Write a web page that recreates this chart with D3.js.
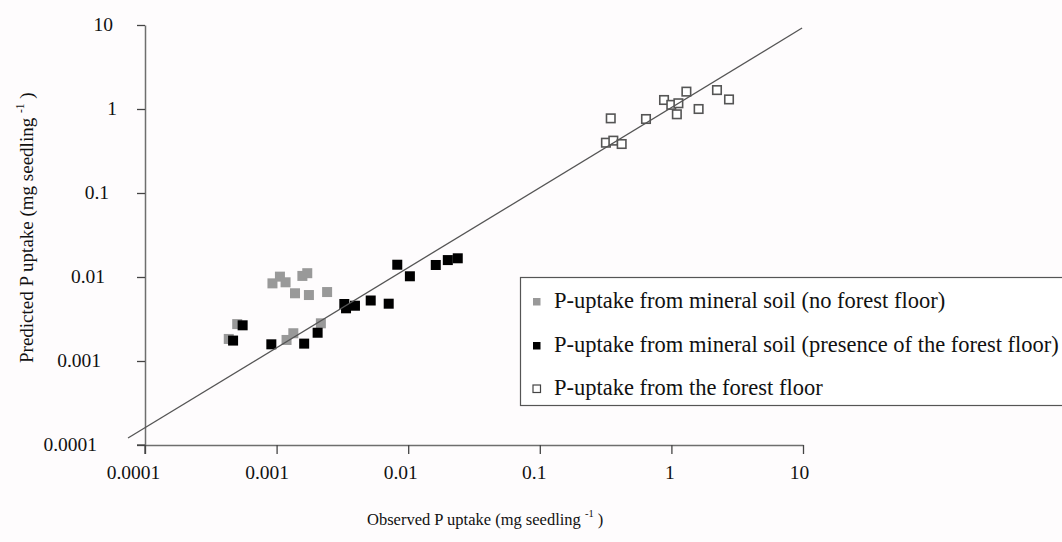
<!DOCTYPE html>
<html>
<head>
<meta charset="utf-8">
<script src="https://cdn.jsdelivr.net/npm/d3@7"></script>
<style>
  html, body { margin: 0; padding: 0; background: #fefcfd; }
  svg { display: block; }
  text { font-family: "Liberation Serif", "Times New Roman", serif; fill: #111; }
</style>
</head>
<body>
<svg id="chart" width="1062" height="542"></svg>
<script>
// Observed vs predicted P uptake (mg seedling^-1), log–log
const mineralNoFloorObs  = [0.00093, 0.00106, 0.00117, 0.00157, 0.00171, 0.00138, 0.00176, 0.00242, 0.000502, 0.000433, 0.00134, 0.00119, 0.00217];
const mineralNoFloorPred = [0.0084, 0.0101, 0.00865, 0.0103, 0.0111, 0.0064, 0.0061, 0.00662, 0.00275, 0.00183, 0.00214, 0.00178, 0.00281];

const mineralWithFloorObs  = [0.000552, 0.000467, 0.000912, 0.00162, 0.00205, 0.00327, 0.00337, 0.00394, 0.00519, 0.00711, 0.00826, 0.0103, 0.0162, 0.0200, 0.0238];
const mineralWithFloorPred = [0.00266, 0.00175, 0.00158, 0.00161, 0.00217, 0.00477, 0.00424, 0.00455, 0.00525, 0.00481, 0.0140, 0.0102, 0.0139, 0.0159, 0.0167];

const forestFloorObs  = [0.346, 0.641, 0.318, 0.362, 0.419, 0.879, 0.998, 1.13, 1.10, 1.30, 1.61, 2.22, 2.74];
const forestFloorPred = [0.774, 0.760, 0.397, 0.420, 0.383, 1.28, 1.12, 1.17, 0.865, 1.61, 1.00, 1.68, 1.30];

// fitted relationship, drawn between its two end points
const fitObs  = [0.0000743, 9.84];
const fitPred = [0.000121, 9.2];

const xTickValues = [0.0001, 0.001, 0.01, 0.1, 1, 10];
const xTickLabels = ["0.0001", "0.001", "0.01", "0.1", "1", "10"];
const yTickValues = [0.0001, 0.001, 0.01, 0.1, 1, 10];
const yTickLabels = ["0.0001", "0.001", "0.01", "0.1", "1", "10"];

const legendLabels = [
  "P-uptake from mineral soil (no forest floor)",
  "P-uptake from mineral soil (presence of the forest floor)",
  "P-uptake from the forest floor"
];

const svg = d3.select("#chart");

const x = d3.scaleLog().domain([1e-4, 10]).range([145, 803]);
const y = d3.scaleLog().domain([1e-4, 10]).range([445, 25]);

// ---- axes ----
const axisColor = "#6e6e6e";

const yAxis = svg.append("g")
  .attr("transform", `translate(${x.range()[0]},0)`)
  .call(d3.axisLeft(y).tickValues(yTickValues)
    .tickFormat((d, i) => yTickLabels[i]).tickSize(8).tickSizeOuter(0));
yAxis.select(".domain").attr("stroke", axisColor).attr("stroke-width", 1.5);
yAxis.selectAll(".tick line").attr("stroke", "#444").attr("stroke-width", 1.3);
yAxis.selectAll(".tick text")
  .attr("font-size", 19.5)
  .attr("font-family", "Liberation Serif")
  .attr("fill", "#111")
  .attr("dy", "0.30em")
  .attr("x", (d, i) => -24 - 4 * yTickLabels[i].length);

const xAxis = svg.append("g")
  .attr("transform", `translate(0,${y.range()[0]})`)
  .call(d3.axisBottom(x).tickValues(xTickValues)
    .tickFormat((d, i) => xTickLabels[i]).tickSize(9).tickSizeOuter(0));
xAxis.select(".domain").attr("stroke", axisColor).attr("stroke-width", 1.5);
xAxis.selectAll(".tick line").attr("stroke", "#444").attr("stroke-width", 1.3);
xAxis.selectAll(".tick text")
  .attr("font-size", 19.5)
  .attr("font-family", "Liberation Serif")
  .attr("fill", "#111")
  .attr("y", 27)
  .attr("dy", "0.35em")
  .attr("dx", (d, i) => -2 * xTickLabels[i].length);

// the origin ticks reach past the crossing axes
svg.append("line")
  .attr("x1", x(1e-4)).attr("x2", x(1e-4))
  .attr("y1", y(1e-4)).attr("y2", y(1e-4) + 9)
  .attr("stroke", "#444").attr("stroke-width", 1.3);
svg.append("line")
  .attr("x1", x(1e-4) - 8).attr("x2", x(1e-4))
  .attr("y1", y(1e-4)).attr("y2", y(1e-4))
  .attr("stroke", "#444").attr("stroke-width", 1.3);

// ---- axis titles ----
const xTitle = svg.append("text")
  .attr("x", 367).attr("y", 525)
  .attr("font-size", 16.5);
xTitle.append("tspan").text("Observed P uptake (mg seedling ");
xTitle.append("tspan").attr("font-size", 10.5).attr("dy", -8).text("-1");
xTitle.append("tspan").attr("dy", 8).text(" )");

const yTitle = svg.append("text")
  .attr("transform", "translate(33,363) rotate(-90)")
  .attr("x", 0).attr("y", 0)
  .attr("font-size", 19);
yTitle.append("tspan").text("Predicted P uptake (mg seedling ");
yTitle.append("tspan").attr("font-size", 11.5).attr("dy", -9).text("-1");
yTitle.append("tspan").attr("dy", 9).text(" )");

// ---- markers ----
const gray = "#999999";

function squares(obs, pred, size, fill, stroke, sw) {
  const pts = obs.map((o, i) => [o, pred[i]]);
  svg.append("g").selectAll("rect").data(pts).join("rect")
    .attr("x", d => x(d[0]) - size / 2)
    .attr("y", d => y(d[1]) - size / 2)
    .attr("width", size).attr("height", size)
    .attr("fill", fill)
    .attr("stroke", stroke)
    .attr("stroke-width", sw);
}

squares(mineralNoFloorObs, mineralNoFloorPred, 10, gray, "none", 0);
squares(mineralWithFloorObs, mineralWithFloorPred, 10, "#000", "none", 0);
squares(forestFloorObs, forestFloorPred, 8.5, "#fff", "#555", 1.6);

// ---- fitted line ----
svg.append("line")
  .attr("x1", x(fitObs[0])).attr("y1", y(fitPred[0]))
  .attr("x2", x(fitObs[1])).attr("y2", y(fitPred[1]))
  .attr("stroke", "#555").attr("stroke-width", 1.3);

// ---- legend ----
const legend = svg.append("g");
legend.append("rect")
  .attr("x", 520.5).attr("y", 277.5)
  .attr("width", 600).attr("height", 128)
  .attr("fill", "#fff")
  .attr("stroke", "#555").attr("stroke-width", 1.2);

const legendStyles = [
  { fill: gray, stroke: "none", sw: 0 },
  { fill: "#000", stroke: "none", sw: 0 },
  { fill: "#fff", stroke: "#444", sw: 1.2 }
];
const rowY = [301, 345, 388];

legend.selectAll("rect.key").data(legendLabels).join("rect")
  .attr("class", "key")
  .attr("x", 533).attr("y", (d, i) => rowY[i] - 3)
  .attr("width", 7.5).attr("height", 7.5)
  .attr("fill", (d, i) => legendStyles[i].fill)
  .attr("stroke", (d, i) => legendStyles[i].stroke)
  .attr("stroke-width", (d, i) => legendStyles[i].sw);

legend.selectAll("text.label").data(legendLabels).join("text")
  .attr("class", "label")
  .attr("x", 554).attr("y", (d, i) => rowY[i] + 7)
  .attr("font-size", 22.5)
  .text(d => d);
</script>
</body>
</html>
